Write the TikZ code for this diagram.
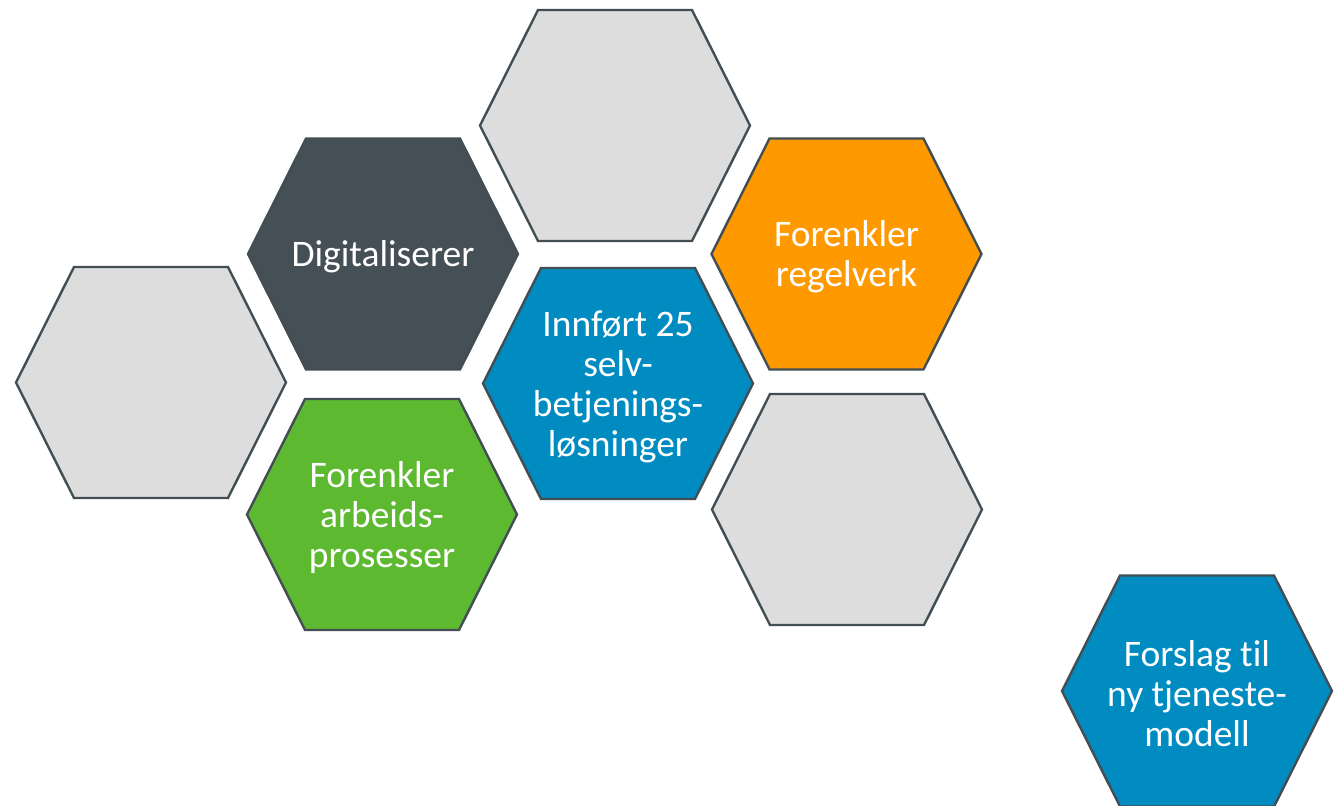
\documentclass[tikz,border=0pt]{standalone}
\usepackage{fontspec}
\setmainfont[Ligatures={CommonOff}]{Carlito}
\definecolor{hexstroke}{HTML}{434E54}
\definecolor{hexgray}{HTML}{DDDDDD}
\definecolor{hexdark}{HTML}{455056}
\definecolor{hexblue}{HTML}{008CC1}
\definecolor{hexorange}{HTML}{FF9900}
\definecolor{hexgreen}{HTML}{5DB92F}
\newcommand{\hexshape}[2]{%
  \draw[hexline, fill=#2]
    ([shift={(-135,0)}]#1) -- ([shift={(-77,-115.5)}]#1) -- ([shift={(77,-115.5)}]#1)
    -- ([shift={(135,0)}]#1) -- ([shift={(77,115.5)}]#1) -- ([shift={(-77,115.5)}]#1) -- cycle;}
\tikzset{
  hexline/.style={draw=hexstroke, line width=2.4pt, line join=miter},
  hextext/.style={text=white, align=center, inner sep=0pt, yshift=-3pt, font=\fontsize{37.5}{40}\selectfont}
}
\begin{document}
\begin{tikzpicture}[x=1pt,y=-1pt]
\clip (0,0) rectangle (1337,805);
\fill[white] (0,0) rectangle (1337,805);
\coordinate (ctop) at (615,125.5);
\coordinate (cdig) at (383,254);
\coordinate (cleft) at (151,382.5);
\coordinate (cgreen) at (382,514.5);
\coordinate (cmid) at (618,383.5);
\coordinate (corange) at (846.5,254);
\coordinate (cright) at (847,509.5);
\coordinate (cnew) at (1197,691);
\hexshape{ctop}{hexgray}
\hexshape{cdig}{hexdark}
\hexshape{cleft}{hexgray}
\hexshape{cgreen}{hexgreen}
\hexshape{cmid}{hexblue}
\hexshape{corange}{hexorange}
\hexshape{cright}{hexgray}
\hexshape{cnew}{hexblue}
\node[hextext] (tdig) at (cdig) {Digitaliserer};
\node[hextext] (tgreen) at (cgreen) {Forenkler\\arbeids-\\prosesser};
\node[hextext] (tmid) at (cmid) {Innført 25\\selv-\\betjenings-\\løsninger};
\node[hextext] (torange) at (corange) {Forenkler\\regelverk};
\node[hextext] (tnew) at (cnew) {Forslag til\\ny tjeneste-\\modell};
\end{tikzpicture}
\end{document}
